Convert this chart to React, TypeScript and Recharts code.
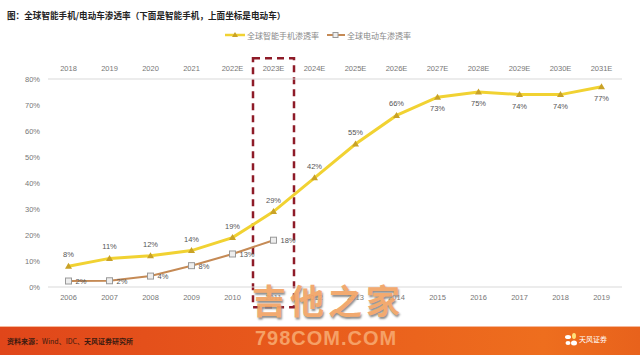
import React from 'react';
import { LineChart, Line, XAxis, YAxis, ReferenceArea, LabelList } from 'recharts';

// bottom axis: smartphone years, top axis: EV years
const phoneYears = ['2006', '2007', '2008', '2009', '2010', '2011', '2012', '2013', '2014', '2015', '2016', '2017', '2018', '2019'];
const evYears = ['2018', '2019', '2020', '2021', '2022E', '2023E', '2024E', '2025E', '2026E', '2027E', '2028E', '2029E', '2030E', '2031E'];
const phoneRate = [8, 11, 12, 14, 19, 29, 42, 55, 66, 73, 75, 74, 74, 77];
const evRate = [2.3, 2.4, 4.2, 8.2, 12.7, 18];
const yTicks = [0, 10, 20, 30, 40, 50, 60, 70, 80];

const data = phoneYears.map((y, i) => ({
  phoneYear: y,
  evYear: evYears[i],
  phone: phoneRate[i],
  ev: i < evRate.length ? evRate[i] : null,
}));

const FONT = '"Liberation Sans", "Noto Sans CJK SC", sans-serif';
const CJK = '"Noto Sans CJK SC", sans-serif';
const PHONE_LINE = '#F1D232';
const PHONE_MARK = '#C9A227';
const EV_LINE = '#C58A55';

const Triangle = (props: any) => {
  const { cx, cy } = props;
  if (cx == null || cy == null) return null;
  return <path d={`M${cx},${cy - 3.5}L${cx + 3.5},${cy + 2.5}L${cx - 3.5},${cy + 2.5}Z`} fill={PHONE_MARK} />;
};

const Square = (props: any) => {
  const { cx, cy, value } = props;
  if (cx == null || cy == null || value == null) return null;
  return <rect x={cx - 3} y={cy - 3} width={6} height={6} fill="#eee" stroke="#999" strokeWidth={1} />;
};

const phoneLabel = (props: any) => {
  const { x, y, value, index } = props;
  const below = index >= 9;
  return (
    <text x={x} y={below ? y + 14 : y - 9} textAnchor="middle" fontSize={7.5} fill="#555" fontFamily={FONT}>
      {value}%
    </text>
  );
};

const evLabel = (props: any) => {
  const { x, y, value } = props;
  if (value == null) return null;
  return (
    <text x={x + 7} y={y + 3} textAnchor="start" fontSize={7.5} fill="#555" fontFamily={FONT}>
      {Math.round(value)}%
    </text>
  );
};

const App: React.FC = () => {
  return (
    <div style={{ position: 'absolute', left: 0, top: 0, width: 640, height: 355, background: '#fff', overflow: 'hidden', fontFamily: FONT }}>
      <div style={{ position: 'absolute', left: 7, top: 9, fontSize: 8.6, lineHeight: '12px', fontWeight: 'bold', color: '#222', fontFamily: CJK, whiteSpace: 'nowrap' }}>
        图：全球智能手机/电动车渗透率（下面是智能手机，上面坐标是电动车）
      </div>

      <div style={{ position: 'absolute', left: 225, top: 29, height: 12, display: 'flex', alignItems: 'center', fontSize: 8, color: '#888', fontFamily: CJK, whiteSpace: 'nowrap' }}>
        <svg width={20} height={8}>
          <line x1={0} y1={4} x2={20} y2={4} stroke={PHONE_LINE} strokeWidth={2.5} />
          <path d="M10,1L13,6L7,6Z" fill={PHONE_MARK} />
        </svg>
        <span style={{ marginLeft: 2 }}>全球智能手机渗透率</span>
        <svg width={18} height={8} style={{ marginLeft: 8 }}>
          <line x1={0} y1={4} x2={18} y2={4} stroke={EV_LINE} strokeWidth={2} />
          <rect x={6} y={1.5} width={5} height={5} fill="#eee" stroke="#999" />
        </svg>
        <span style={{ marginLeft: 2 }}>全球电动车渗透率</span>
      </div>

      <div style={{ position: 'absolute', left: 0, top: 0 }}>
        <LineChart width={640} height={320} data={data} margin={{ top: 59, right: 18, bottom: 13, left: 8 }}>
          <XAxis
            xAxisId="bottom"
            dataKey="phoneYear"
            orientation="bottom"
            scale="band"
            height={20}
            axisLine={{ stroke: '#D9D9D9' }}
            tickLine={false}
            tickSize={0}
            tickMargin={8}
            tick={{ fontSize: 7.5, fill: '#777', fontFamily: FONT }}
            interval={0}
          />
          <XAxis
            xAxisId="top"
            dataKey="evYear"
            orientation="top"
            scale="band"
            height={20}
            axisLine={{ stroke: '#D9D9D9' }}
            tickLine={false}
            tickSize={0}
            tickMargin={8}
            tick={{ fontSize: 7.5, fill: '#777', fontFamily: FONT }}
            interval={0}
          />
          <YAxis
            domain={[0, 80]}
            ticks={yTicks}
            width={40}
            axisLine={false}
            tickLine={false}
            tickSize={0}
            tickMargin={8}
            tickFormatter={(v: number) => `${v}%`}
            tick={{ fontSize: 7.5, fill: '#777', fontFamily: FONT }}
          />
          <Line
            xAxisId="bottom"
            dataKey="phone"
            stroke={PHONE_LINE}
            strokeWidth={3}
            dot={<Triangle />}
            activeDot={false}
            isAnimationActive={false}
          >
            <LabelList dataKey="phone" content={phoneLabel} />
          </Line>
          <Line
            xAxisId="top"
            dataKey="ev"
            stroke={EV_LINE}
            strokeWidth={2}
            dot={<Square />}
            activeDot={false}
            isAnimationActive={false}
          >
            <LabelList dataKey="ev" content={evLabel} />
          </Line>
          <ReferenceArea
            xAxisId="top"
            x1="2023E"
            x2="2023E"
            y1={-7.8}
            y2={88}
            ifOverflow="visible"
            fill="none"
            fillOpacity={0}
            stroke="#8E1B28"
            strokeWidth={2.5}
            strokeDasharray="7 5"
          />
        </LineChart>
      </div>

      <div style={{ position: 'absolute', left: 252, top: 278, fontSize: 34, lineHeight: '44px', fontWeight: 'bold', color: '#F2A466', fontFamily: CJK, letterSpacing: 4, textShadow: '1px 2px 2px #888', opacity: 0.93, whiteSpace: 'nowrap' }}>
        吉他之家
      </div>

      <div style={{ position: 'absolute', left: 0, top: 326, width: 640, height: 29, borderTop: '1px solid #F6B89A', background: 'linear-gradient(90deg, #E0461A 0%, #E85A1C 45%, #EE6E1E 85%, #E8621C 100%)' }}>
        <div style={{ position: 'absolute', left: 7, top: 9, fontSize: 7, lineHeight: '10px', color: '#3a1a10', fontFamily: CJK, whiteSpace: 'nowrap' }}>
          <b>资料来源：</b>Wind、IDC、<b>天风证券研究所</b>
        </div>
        <div style={{ position: 'absolute', left: 255, top: -1, fontSize: 20, lineHeight: '24px', fontWeight: 'bold', color: '#F5A066', fontFamily: '"Liberation Sans Narrow", "Liberation Sans", sans-serif', letterSpacing: 1, whiteSpace: 'nowrap' }}>
          798COM.COM
        </div>
        <svg style={{ position: 'absolute', left: 564, top: 6 }} width={14} height={14}>
          <ellipse cx={4} cy={4} rx={3} ry={2} fill="#fff" />
          <ellipse cx={10} cy={3} rx={2} ry={3} fill="#FFE27A" />
          <ellipse cx={4} cy={10} rx={2.5} ry={2} fill="#fff" />
          <ellipse cx={10} cy={10} rx={3} ry={2.5} fill="#fff" />
        </svg>
        <div style={{ position: 'absolute', left: 579, top: 8, fontSize: 7, lineHeight: '9px', color: '#fff', fontFamily: CJK, whiteSpace: 'nowrap' }}>
          天风证券
        </div>
      </div>
    </div>
  );
};

export default App;
